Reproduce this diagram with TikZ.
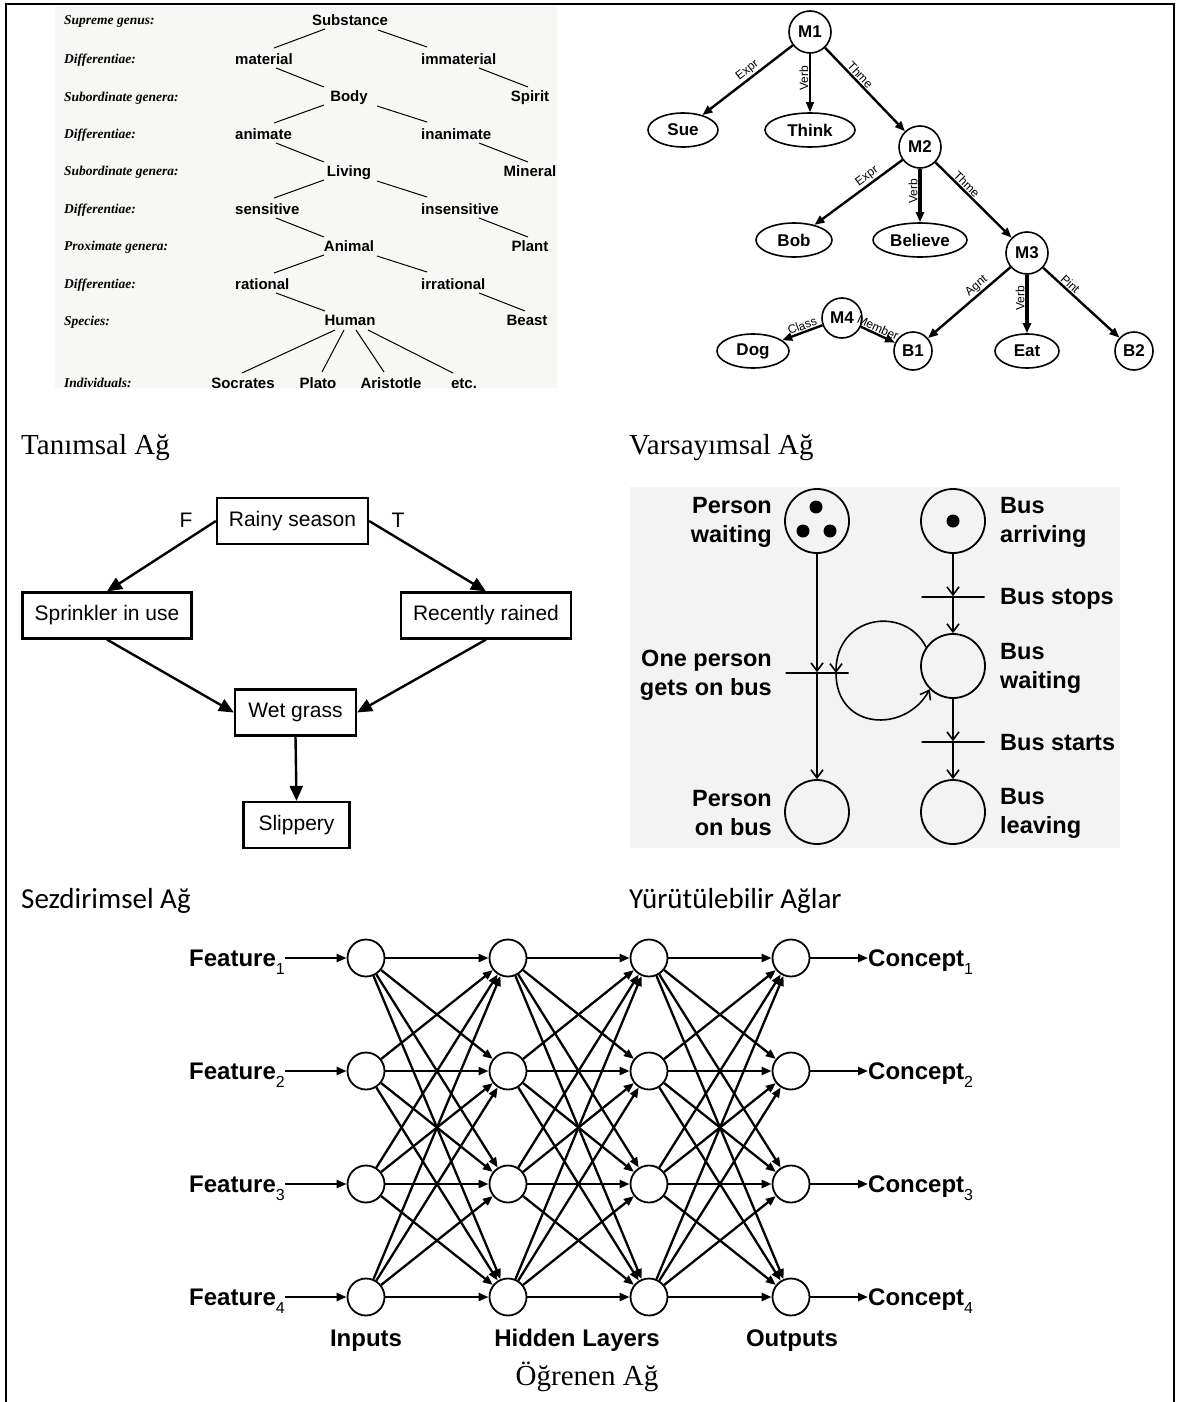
\documentclass[tikz,border=0pt]{standalone}
\usepackage{fontspec}
\setmainfont{Liberation Serif}
\newfontfamily\tnr{Liberation Serif}
\newfontfamily\arialf{Liberation Sans}
\newfontfamily\carl{Carlito}
\usetikzlibrary{arrows.meta,calc,shapes.geometric}
\definecolor{tlbg}{RGB}{247,247,245}
\definecolor{pbg}{RGB}{243,243,243}
\tikzset{
  frm/.style={line width=2.2pt},
  tax/.style={font=\tnr\bfseries\itshape\fontsize{13.5}{15}\selectfont, anchor=west, inner sep=0pt, text height=9pt, text depth=0pt},
  tn/.style={font=\arialf\bfseries\fontsize{15}{17}\selectfont, inner sep=0pt, text height=10.5pt, text depth=0pt},
  tl/.style={line width=1pt},
  sc/.style={circle, draw, line width=1.6pt, minimum size=42pt, inner sep=0pt, font=\arialf\bfseries\fontsize{17}{20}\selectfont},
  se/.style={ellipse, draw, line width=1.6pt, minimum height=34pt, inner sep=0pt, font=\arialf\bfseries\fontsize{17}{20}\selectfont},
  sa/.style={line width=2.4pt, -{Triangle[length=10pt,width=8pt]}},
  sl/.style={font=\arialf\fontsize{12}{13}\selectfont, sloped, above, inner sep=1pt},
  vl/.style={font=\arialf\fontsize{12}{13}\selectfont, rotate=90, anchor=south, inner sep=1pt},
  captxt/.style={font=\tnr\fontsize{29}{32}\selectfont, inner sep=0pt, text height=19pt, text depth=0pt},
  captxtc/.style={font=\carl\fontsize{29}{32}\selectfont, inner sep=0pt, text height=19pt, text depth=0pt},
  bb/.style={draw, line width=2.2pt, font=\arialf\fontsize{21}{24}\selectfont, minimum height=46pt, inner sep=0pt},
  ba/.style={line width=2.4pt, -{Triangle[length=15pt,width=13pt]}},
  btl/.style={font=\arialf\fontsize{21}{24}\selectfont, inner sep=0pt},
  pp/.style={circle, draw, line width=1.8pt, minimum size=64pt, inner sep=0pt},
  tok/.style={circle, fill, minimum size=13pt, inner sep=0pt},
  pbar/.style={draw, line width=1.6pt, minimum width=63pt, minimum height=0pt, inner sep=0pt},
  pa/.style={line width=1.6pt, -{Straight Barb[length=8pt,width=12pt]}},
  pl/.style={font=\arialf\bfseries\fontsize{23.5}{29}\selectfont, align=left, anchor=west, inner sep=0pt},
  pr/.style={font=\arialf\bfseries\fontsize{23.5}{29}\selectfont, align=right, anchor=east, inner sep=0pt},
  nn/.style={circle, draw, line width=1.8pt, minimum size=37pt, inner sep=0pt},
  na/.style={line width=2.3pt, -{Triangle[length=10pt,width=8pt]}},
  nt/.style={font=\arialf\bfseries\fontsize{24}{28}\selectfont, inner sep=0pt, text height=17pt, text depth=0pt}
}
\newcommand{\sbs}[1]{\raisebox{-0.32em}{\mdseries\fontsize{16}{16}\selectfont #1}}
\begin{document}
\begin{tikzpicture}[x=1pt,y=-1pt]
\useasboundingbox (0,0) rectangle (1181,1402);
\fill[white] (0,0) rectangle (1181,1402);
% frame
\draw[frm] (6,1403) -- (6,4) -- (1174,4) -- (1174,1403);
% backgrounds
\fill[tlbg] (55,6) rectangle (557,388);
\fill[pbg] (630,487) rectangle (1120,848);

% ---------- Taxonomy ----------
\foreach \y/\t in {20/Supreme genus:,59/Differentiae:,97/Subordinate genera:,134/Differentiae:,171/Subordinate genera:,209/Differentiae:,246/Proximate genera:,284/Differentiae:,321/Species:,383/Individuals:}
  \node[tax] at (64,\y) {\t};
\node[tn] (sub) at (350,20) {Substance};
\node[tn,anchor=west] (mat) at (235,59) {material};
\node[tn,anchor=west] (imm) at (421,59) {immaterial};
\node[tn] (body) at (349,96) {Body};
\node[tn] (spirit) at (530,96) {Spirit};
\node[tn,anchor=west] (anim) at (235,134) {animate};
\node[tn,anchor=west] (inan) at (421,134) {inanimate};
\node[tn] (living) at (349,171) {Living};
\node[tn] (mineral) at (530,171) {Mineral};
\node[tn,anchor=west] (sens) at (235,209) {sensitive};
\node[tn,anchor=west] (insens) at (421,209) {insensitive};
\node[tn] (animal) at (349,246) {Animal};
\node[tn] (plant) at (530,246) {Plant};
\node[tn,anchor=west] (rat) at (235,284) {rational};
\node[tn,anchor=west] (irr) at (421,284) {irrational};
\node[tn] (human) at (350,320) {Human};
\node[tn] (beast) at (527,320) {Beast};
\node[tn] (socr) at (243,383) {Socrates};
\node[tn] (plato) at (318,383) {Plato};
\node[tn] (arist) at (391,383) {Aristotle};
\node[tn] (etc) at (464,383) {etc.};
\foreach \g/\l/\r/\gg/\rg in {sub/mat/imm/body/spirit,body/anim/inan/living/mineral,living/sens/insens/animal/plant,animal/rat/irr/human/beast}{
  \draw[tl] ([shift={(-25,9)}]\g.center) -- ([shift={(39,-11)}]\l.west);
  \draw[tl] ([shift={(28,10)}]\g.center) -- ([shift={(6,-12)}]\r.west);
  \draw[tl] ([shift={(41,9)}]\l.west) -- ([shift={(-25,-9)}]\gg.center);
  \draw[tl] ([shift={(58,9)}]\r.west) -- ([shift={(-2,-9)}]\rg.center);
}
\draw[tl] ([shift={(-15,10)}]human.center) -- ([shift={(-1,-10)}]socr.center);
\draw[tl] ([shift={(-6,10)}]human.center) -- ([shift={(4,-11)}]plato.center);
\draw[tl] ([shift={(6,10)}]human.center) -- ([shift={(-7,-11)}]arist.center);
\draw[tl] ([shift={(18,10)}]human.center) -- ([shift={(-11,-10)}]etc.center);

% ---------- Semantic net ----------
\node[sc] (M1) at (810,32) {M1};
\node[se, minimum width=70pt] (Sue) at (683,130) {Sue};
\node[se, minimum width=90pt] (Think) at (810,130) {Think};
\node[sc] (M2) at (920,147) {M2};
\node[se, minimum width=76pt] (Bob) at (794,240) {Bob};
\node[se, minimum width=94pt] (Believe) at (920,240) {Believe};
\node[sc] (M3) at (1027,253) {M3};
\node[sc, minimum size=40pt] (M4) at (842,318) {M4};
\node[se, minimum width=72pt] (Dog) at (753,351) {Dog};
\node[sc, minimum size=38pt] (B1) at (913,351) {B1};
\node[se, minimum width=64pt] (Eat) at (1027,351) {Eat};
\node[sc, minimum size=38pt] (B2) at (1134,351) {B2};
\draw[sa] (M1) -- node[sl,pos=0.45]{Expr} (Sue);
\draw[sa, line width=1.4pt] (M1) -- node[vl,pos=0.42]{Verb} (Think);
\draw[sa] (M1) -- node[sl,pos=0.38]{Thme} (M2);
\draw[sa] (M2) -- node[sl,pos=0.35]{Expr} (Bob);
\draw[sa, line width=3.2pt] (M2) -- node[vl,pos=0.42]{Verb} (Believe);
\draw[sa] (M2) -- node[sl,pos=0.35]{Thme} (M3);
\draw[sa] (M3) -- node[sl,pos=0.35]{Agnt} (B1);
\draw[sa, line width=3.2pt] (M3) -- node[vl,pos=0.4]{Verb} (Eat);
\draw[sa] (M3) -- node[sl,pos=0.3]{Pint} (B2);
\draw[sa] (M4) -- node[sl,pos=0.45]{Class} (Dog);
\draw[sa] (M4) -- node[sl,pos=0.42]{Member} (B1);

% ---------- Captions ----------
\node[captxt, anchor=west] (cap1) at (21,445) {Tanımsal Ağ};
\node[captxt, anchor=west] (cap2) at (629,445) {Varsayımsal Ağ};
\node[captxtc, anchor=west] (cap3) at (21,899) {Sezdirimsel Ağ};
\node[captxtc, anchor=west] (cap4) at (629,899) {Yürütülebilir Ağlar};
\node[captxt] (cap5) at (587,1376) {Öğrenen Ağ};

% ---------- Bayesian net ----------
\node[bb, minimum width=151pt] (rs) at (292.5,521) {Rainy season};
\node[bb, minimum width=169pt] (sp) at (107,615.5) {Sprinkler in use};
\node[bb, minimum width=170pt] (rr) at (486,615.5) {Recently rained};
\node[bb, minimum width=121pt] (wg) at (295.5,712.5) {Wet grass};
\node[bb, minimum width=106pt] (sl) at (296.5,825) {Slippery};
\node[btl] (lF) at (186,520) {F};
\node[btl] (lT) at (398,520) {T};
\draw[ba] (rs.west) -- (sp.north);
\draw[ba] (rs.east) -- (rr.north);
\draw[ba] (sp.south) -- (wg.west);
\draw[ba] (rr.south) -- (wg.east);
\draw[ba] (wg.south) -- (sl.north);

% ---------- Petri net ----------
\node[pp] (pw) at (817,521) {};
\node[tok] (pwt1) at (816,507) {};
\node[tok] (pwt2) at (803,531) {};
\node[tok] (pwt3) at (830,531) {};
\node[pp] (ba) at (953,521) {};
\node[tok] (bat) at (953,521) {};
\node[pbar] (tbs) at (953,597) {};
\node[pp] (bw) at (953,666) {};
\node[pbar] (tog) at (817,673) {};
\node[pbar] (tst) at (953,742) {};
\node[pp] (pob) at (817,812) {};
\node[pp] (bl) at (953,812) {};
\node[pr] (lpw) at (772,522) {Person\\waiting};
\node[pl] (lba) at (1000,522) {Bus\\arriving};
\node[pl] (lbs) at (1000,599) {Bus stops};
\node[pr] (log) at (772,675) {One person\\gets on bus};
\node[pl] (lbw) at (1000,668) {Bus\\waiting};
\node[pl] (lst) at (1000,743) {Bus starts};
\node[pr] (lpob) at (772,813) {Person\\on bus};
\node[pl] (lbl) at (1000,813) {Bus\\leaving};
\draw[pa] (pw) -- (tog);
\draw[pa] (tog) -- (pob);
\draw[pa] (ba) -- (tbs);
\draw[pa] (tbs) -- (bw);
\draw[pa] (bw) -- (tst);
\draw[pa] (tst) -- (bl);
\draw[pa] (bw.145) .. controls (905,605) and (836,615) .. ([xshift=19pt]tog.center);
\draw[pa] ([xshift=19pt]tog.center) .. controls (836,730) and (905,734) .. (bw.225);

% ---------- Neural net ----------
\foreach \c/\x in {1/366,2/508,3/649,4/791}
  \foreach \r/\y in {1/958,2/1071,3/1184,4/1297}
    \node[nn] (n\c\r) at (\x,\y) {};
\foreach \c/\d in {1/2,2/3,3/4}
  \foreach \r in {1,...,4}
    \foreach \s in {1,...,4}
      \draw[na] (n\c\r) -- (n\d\s);
\foreach \r/\y in {1/958,2/1071,3/1184,4/1297}{
  \node[nt, anchor=east] (f\r) at (285,\y) {Feature\sbs{\r}};
  \node[nt, anchor=west] (k\r) at (868,\y) {Concept\sbs{\r}};
  \draw[na] (f\r) -- (n1\r);
  \draw[na] (n4\r) -- (k\r);
}
\node[nt] (inp) at (366,1338) {Inputs};
\node[nt] (hid) at (577,1338) {Hidden Layers};
\node[nt] (outp) at (792,1338) {Outputs};
\end{tikzpicture}
\end{document}
